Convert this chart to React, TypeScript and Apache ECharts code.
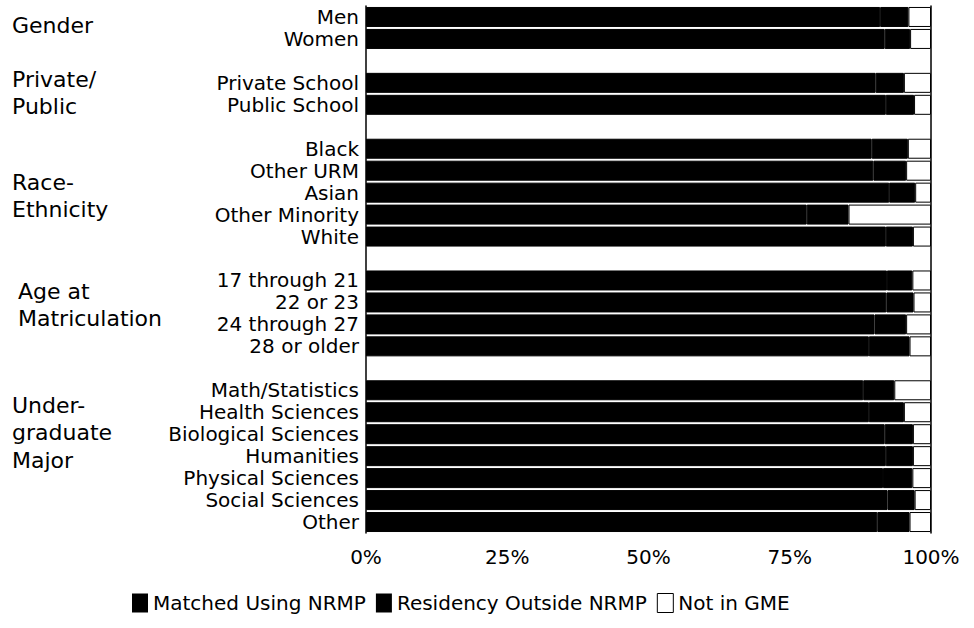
import React, { useEffect, useRef } from "react";
import * as echarts from "echarts";

const categories = [
  "Men", "Women", "",
  "Private School", "Public School", "",
  "Black", "Other URM", "Asian", "Other Minority", "White", "",
  "17 through 21", "22 or 23", "24 through 27", "28 or older", "",
  "Math/Statistics", "Health Sciences", "Biological Sciences", "Humanities",
  "Physical Sciences", "Social Sciences", "Other",
];

const matchedNRMP = [91.0, 91.8, null, 90.2, 92.0, null, 89.5, 89.8, 92.6, 78.0, 92.0, null, 92.2, 92.1, 90.0, 89.0, null, 88.0, 89.0, 91.8, 92.0, 91.5, 92.3, 90.5];
const outsideNRMP = [5.0, 4.5, null, 5.0, 5.0, null, 6.4, 5.8, 4.6, 7.4, 4.8, null, 4.5, 4.8, 5.6, 7.2, null, 5.5, 6.2, 5.0, 4.8, 5.2, 4.8, 5.7];
const notInGME = [4.0, 3.7, null, 4.8, 3.0, null, 4.1, 4.4, 2.8, 14.6, 3.2, null, 3.3, 3.1, 4.4, 3.8, null, 6.5, 4.8, 3.2, 3.2, 3.3, 2.9, 3.8];

const seriesNames = ["Matched Using NRMP", "Residency Outside NRMP", "Not in GME"];
const xTicks = { min: 0, max: 100, interval: 25 };

const groupLabels = [
  { lines: ["Gender"], x: 12, y: 25 },
  { lines: ["Private/", "Public"], x: 12, y: 79 },
  { lines: ["Race-", "Ethnicity"], x: 12, y: 182 },
  { lines: ["Age at", "Matriculation"], x: 18, y: 291 },
  { lines: ["Under-", "graduate", "Major"], x: 12, y: 405 },
];

const FONT = "DejaVu Sans";

export default function App() {
  const ref = useRef<HTMLDivElement>(null);
  useEffect(() => {
    if (!ref.current) return;
    const chart = echarts.init(ref.current, null, { renderer: "svg" });
    const graphics: any[] = [];
    groupLabels.forEach((g) => {
      g.lines.forEach((t, i) => {
        graphics.push({
          type: "text",
          x: g.x,
          y: g.y + i * 27.5,
          style: {
            text: t,
            fill: "#000",
            font: `22px "${FONT}"`,
            textAlign: "left",
            textVerticalAlign: "middle",
          },
        });
      });
    });
    chart.setOption({
      animation: false,
      backgroundColor: "#fff",
      textStyle: { fontFamily: FONT },
      grid: { left: 366, right: 43, top: 6, bottom: 95, containLabel: false },
      legend: {
        left: 132,
        top: 593,
        padding: 0,
        itemWidth: 16,
        itemHeight: 19,
        itemGap: 10,
        icon: "rect",
        textStyle: { fontFamily: FONT, fontSize: 20, color: "#000" },
        data: [
          { name: seriesNames[0], itemStyle: { color: "#000", borderWidth: 0 } },
          { name: seriesNames[1], itemStyle: { color: "#000", borderWidth: 0 } },
          { name: seriesNames[2], itemStyle: { color: "#fff", borderColor: "#000", borderWidth: 1 } },
        ],
      },
      xAxis: {
        type: "value",
        min: xTicks.min,
        max: xTicks.max,
        interval: xTicks.interval,
        axisLine: { show: false },
        axisTick: { show: false },
        splitLine: { show: false },
        axisLabel: {
          formatter: "{value}%",
          fontFamily: FONT,
          fontSize: 20,
          color: "#000",
          margin: 14,
        },
      },
      yAxis: [
        {
          type: "category",
          data: categories,
          inverse: true,
          axisLine: { show: true, lineStyle: { color: "#000", width: 1.5 } },
          axisTick: { show: false },
          axisLabel: {
            fontFamily: FONT,
            fontSize: 20,
            color: "#000",
            margin: 7,
            interval: 0,
          },
        },
        {
          type: "category",
          data: categories,
          inverse: true,
          position: "right",
          axisLine: { show: true, lineStyle: { color: "#000", width: 1.5 } },
          axisTick: { show: false },
          axisLabel: { show: false },
        },
      ],
      series: [
        {
          name: seriesNames[0],
          type: "bar",
          stack: "total",
          barWidth: 20,
          data: matchedNRMP,
          itemStyle: { color: "#000", borderColor: "#000", borderWidth: 1 },
        },
        {
          name: seriesNames[1],
          type: "bar",
          stack: "total",
          barWidth: 20,
          data: outsideNRMP,
          itemStyle: { color: "#000", borderColor: "#000", borderWidth: 1 },
        },
        {
          name: seriesNames[2],
          type: "bar",
          stack: "total",
          barWidth: 20,
          data: notInGME,
          itemStyle: { color: "#fff", borderColor: "#000", borderWidth: 1 },
        },
      ],
      graphic: graphics,
    });
    return () => chart.dispose();
  }, []);
  return (
    <div
      ref={ref}
      style={{ position: "fixed", left: 0, top: 0, width: 974, height: 628, background: "#fff" }}
    />
  );
}
